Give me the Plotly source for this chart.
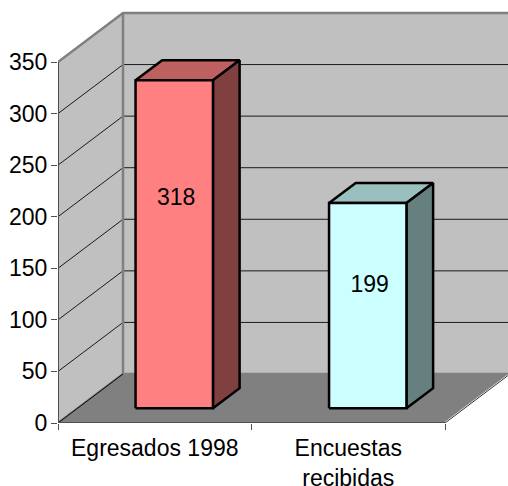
import plotly.graph_objects as go

categories = ["Egresados 1998", "Encuestas<br>recibidas"]
values = [318, 199]
label_heights = [217, 133]
y_ticks = [0, 50, 100, 150, 200, 250, 300, 350]
front_colors = ["#FF8080", "#CCFFFF"]
top_colors = ["#BF6060", "#99BFBF"]
side_colors = ["#804040", "#668080"]

WIDTH, HEIGHT = 508, 486
ML, MB = 58, 63
PX_X = 193.5          # pixels per category
PX_Y = 361 / 350      # pixels per unit
DX = 65 / PX_X        # full depth shift, category units
DY = 49 / PX_Y        # full depth shift, value units
FONT = "Liberation Sans, Arial, sans-serif"
FS = 23
TEXT = "#000000"
WALL, FLOOR, EDGE, GRID, AXIS = "#C0C0C0", "#808080", "#808080", "#1A1A1A", "#505050"
B0, B1, D0, D1 = 0.3, 0.7, 0.3, 0.71
ymax_cat = max(y_ticks)
ncat = len(categories)


def pr(c, v, d):
    return c + d * DX, v + d * DY


fig = go.Figure()


def poly(points, fill=None, line=None, width=1):
    xs, ys = zip(*points)
    fig.add_trace(go.Scatter(
        x=list(xs), y=list(ys), mode="lines",
        fill="toself" if fill else "none", fillcolor=fill,
        line=dict(color=line or "rgba(0,0,0,0)", width=width),
        hoverinfo="skip", showlegend=False, cliponaxis=False,
    ))


# walls and floor
poly([pr(0, 0, 0), pr(0, 0, 1), pr(0, ymax_cat, 1), pr(0, ymax_cat, 0), pr(0, 0, 0)], fill=WALL)
poly([pr(0, 0, 1), pr(ncat, 0, 1), pr(ncat, ymax_cat, 1), pr(0, ymax_cat, 1), pr(0, 0, 1)], fill=WALL)
poly([pr(0, 0, 0), pr(ncat, 0, 0), pr(ncat, 0, 1), pr(0, 0, 1), pr(0, 0, 0)], fill=FLOOR)

# gridlines
for t in y_ticks[1:-1]:
    poly([pr(0, t, 0), pr(0, t, 1), pr(ncat, t, 1)], line=GRID, width=1)

# wall edges
poly([pr(0, ymax_cat, 0), pr(0, ymax_cat, 1), pr(ncat, ymax_cat, 1)], line=EDGE, width=2.5)
poly([pr(0, ymax_cat, 1), pr(0, 0, 1), pr(ncat, 0, 1)], line=EDGE, width=2.5)
poly([pr(0, 0, 0), pr(0, 0, 1)], line=EDGE, width=2.5)
poly([pr(0, 0, 0), pr(0, 0, 1)], line="#000000", width=1)
poly([pr(ncat, 0, 0), pr(ncat, 0, 1)], line="#FFFFFF", width=2)
poly([pr(ncat, 0, 0), pr(ncat, 0, 1)], line="#303030", width=1)

# bars
for i, v in enumerate(values):
    a, b = i + B0, i + B1
    poly([pr(a, v, D0), pr(b, v, D0), pr(b, v, D1), pr(a, v, D1), pr(a, v, D0)],
         fill=top_colors[i], line="#000000", width=2.5)
    poly([pr(b, 0, D0), pr(b, 0, D1), pr(b, v, D1), pr(b, v, D0), pr(b, 0, D0)],
         fill=side_colors[i], line="#000000", width=2.5)
    poly([pr(a, 0, D0), pr(b, 0, D0), pr(b, v, D0), pr(a, v, D0), pr(a, 0, D0)],
         fill=front_colors[i], line="#000000", width=2.5)

# data labels
fig.add_trace(go.Scatter(
    x=[pr(i + 0.5, 0, D0)[0] + 0.01 for i in range(ncat)],
    y=label_heights,
    mode="text", text=[str(v) for v in values],
    textposition="middle center",
    textfont=dict(family=FONT, size=FS, color=TEXT),
    hoverinfo="skip", showlegend=False, cliponaxis=False,
))

# axis lines
poly([(0, 0), (0, ymax_cat)], line=AXIS, width=2)
poly([(0, 0), (ncat, 0)], line=AXIS, width=2)

fig.update_layout(
    width=WIDTH, height=HEIGHT, autosize=False,
    margin=dict(l=ML, r=0, t=0, b=MB, pad=0, autoexpand=False),
    paper_bgcolor="#FFFFFF", plot_bgcolor="#FFFFFF",
    font=dict(family=FONT, size=FS, color=TEXT),
    showlegend=False,
    xaxis=dict(
        range=[0, (WIDTH - ML) / PX_X], showgrid=False, zeroline=False, showline=False,
        automargin=False,
        tickmode="array", tickvals=[i + 0.5 for i in range(ncat)], ticktext=categories,
        ticks="", tickfont=dict(family=FONT, size=FS, color=TEXT),
        ticklabelstandoff=9,
        minor=dict(tickmode="array", tickvals=list(range(ncat + 1)), ticks="outside",
                   ticklen=6, tickwidth=1, tickcolor=AXIS, showgrid=False),
        fixedrange=True,
    ),
    yaxis=dict(
        range=[0, (HEIGHT - MB) / PX_Y], showgrid=False, zeroline=False, showline=False,
        automargin=False,
        tickmode="array", tickvals=y_ticks, ticktext=[str(t) for t in y_ticks],
        ticks="outside", ticklen=6, tickwidth=1, tickcolor=AXIS,
        tickfont=dict(family=FONT, size=FS, color=TEXT),
        ticklabelstandoff=-1,
        fixedrange=True,
    ),
)

fig.write_html("out.html", config={"displayModeBar": False},
               post_script="document.body.style.margin='0';")
